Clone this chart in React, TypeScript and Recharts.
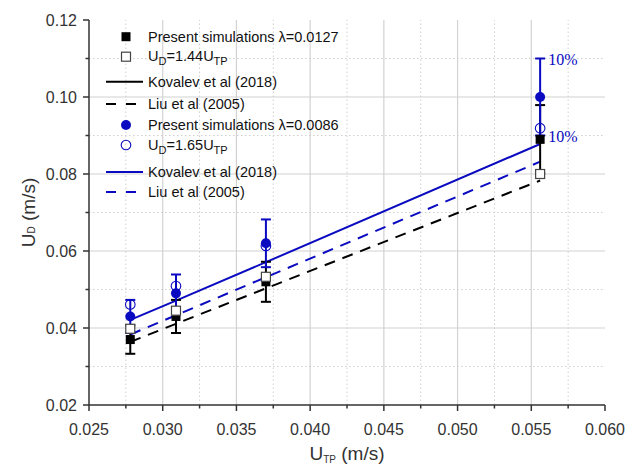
import { ComposedChart, Line, Scatter, XAxis, YAxis, ErrorBar, ReferenceLine } from 'recharts';

// U_TP (m/s)
const utp = [0.0278, 0.0309, 0.037, 0.0556];
// lambda = 0.0127 (black)
const simBlack = [0.037, 0.043, 0.052, 0.089];
const simBlackErr = [0.0037, 0.0043, 0.0052, 0.0089];
const fit144 = [0.0398, 0.0445, 0.0533, 0.080];
const liuBlack = [0.0364, 0.0411, 0.0503, 0.0783];
// lambda = 0.0086 (blue)
const simBlue = [0.043, 0.049, 0.062, 0.100];
const simBlueErr = [0.0043, 0.0049, 0.0062, 0.010];
const fit165 = [0.0461, 0.0509, 0.0613, 0.0919];
const kovalevBlue = [0.0421, 0.0471, 0.0571, 0.0878];
const liuBlue = [0.0383, 0.0433, 0.0532, 0.0832];

const pctNotes = [
  { x: 0.0556, y: 0.11, text: '10%' },
  { x: 0.0556, y: 0.09, text: '10%' },
];

const xTicks = [0.025, 0.0275, 0.03, 0.0325, 0.035, 0.0375, 0.04, 0.0425, 0.045, 0.0475, 0.05, 0.0525, 0.055, 0.0575, 0.06];
const xMajor = [0.025, 0.03, 0.035, 0.04, 0.045, 0.05, 0.055, 0.06];
const yTicks = [0.02, 0.03, 0.04, 0.05, 0.06, 0.07, 0.08, 0.09, 0.1, 0.11, 0.12];
const yMajor = [0.02, 0.04, 0.06, 0.08, 0.1, 0.12];

const xGridMajor = [0.03, 0.035, 0.04, 0.045, 0.05, 0.055];
const xGridMinor = [0.0275, 0.0325, 0.0375, 0.0425, 0.0475, 0.0525, 0.0575];
const yGridMajor = [0.04, 0.06, 0.08, 0.1];
const yGridMinor = [0.03, 0.05, 0.07, 0.09, 0.11];

const rows = utp.map((x, i) => ({
  x,
  simBlack: simBlack[i],
  simBlackErr: simBlackErr[i],
  fit144: fit144[i],
  liuBlack: liuBlack[i],
  simBlue: simBlue[i],
  simBlueErr: simBlueErr[i],
  fit165: fit165[i],
  kovalevBlue: kovalevBlue[i],
  liuBlue: liuBlue[i],
}));

const BLUE = '#0a0ac0';
const AXIS = '#333';
const FONT = '"Liberation Sans", Arial, sans-serif';

const isMajor = (v: number, list: number[]) => list.some((m) => Math.abs(m - v) < 1e-7);

function XTick({ x, y, payload }: any) {
  const v = payload.value;
  const major = isMajor(v, xMajor);
  return (
    <g>
      <line x1={x} x2={x} y1={y} y2={y + (major ? 6 : 3.5)} stroke={AXIS} strokeWidth={1.5} />
      {major && (
        <text x={x} y={y + 30} textAnchor="middle" fontSize={16} fill={AXIS} fontFamily={FONT}>
          {v.toFixed(3)}
        </text>
      )}
    </g>
  );
}

function YTick({ x, y, payload }: any) {
  const v = payload.value;
  const major = isMajor(v, yMajor);
  return (
    <g>
      <line x1={x} x2={x - (major ? 6 : 3.5)} y1={y} y2={y} stroke={AXIS} strokeWidth={1.5} />
      {major && (
        <text x={x - 12} y={y + 6} textAnchor="end" fontSize={16} fill={AXIS} fontFamily={FONT}>
          {v.toFixed(2)}
        </text>
      )}
    </g>
  );
}

const FilledSquare = ({ cx, cy }: any) => <rect x={cx - 4.5} y={cy - 4.5} width={9} height={9} fill="#000" />;
const OpenSquare = ({ cx, cy }: any) => (
  <rect x={cx - 4.5} y={cy - 4.5} width={9} height={9} fill="#fff" stroke="#444" strokeWidth={1.2} />
);
const FilledDot = ({ cx, cy }: any) => <circle cx={cx} cy={cy} r={5} fill={BLUE} />;
const OpenDot = ({ cx, cy }: any) => <circle cx={cx} cy={cy} r={4.8} fill="none" stroke={BLUE} strokeWidth={1.1} />;
const PctText = ({ cx, cy, payload }: any) => (
  <text x={cx + 8} y={cy + 6} fontSize={16} fill={BLUE} fontFamily='"Liberation Serif", "Times New Roman", serif'>
    {payload.text}
  </text>
);

function Legend() {
  const tx = 148;
  const lx1 = 106;
  const lx2 = 143;
  const mx = 126;
  const txt = { fontSize: 14.5, fill: '#111', fontFamily: FONT } as const;
  const sub = (s: string) => (
    <tspan dy={4} fontSize={11}>
      {s}
    </tspan>
  );
  return (
    <svg width={637} height={467} style={{ position: 'absolute', left: 0, top: 0, pointerEvents: 'none' }}>
      <rect x={mx - 4.5} y={36.7 - 4.5} width={9} height={9} fill="#000" />
      <text x={tx} y={41.7} {...txt}>Present simulations λ=0.0127</text>

      <rect x={mx - 4.5} y={56.7 - 4.5} width={9} height={9} fill="#fff" stroke="#444" strokeWidth={1.2} />
      <text x={tx} y={61} {...txt}>
        U{sub('D')}
        <tspan dy={-4}>=1.44U</tspan>
        {sub('TP')}
      </text>

      <line x1={lx1} x2={lx2} y1={81.7} y2={81.7} stroke="#000" strokeWidth={2} />
      <text x={tx} y={86.7} {...txt}>Kovalev et al (2018)</text>

      <line x1={lx1} x2={lx2} y1={104} y2={104} stroke="#000" strokeWidth={2} strokeDasharray="10 10" />
      <text x={tx} y={109} {...txt}>Liu et al (2005)</text>

      <circle cx={mx} cy={125} r={5} fill={BLUE} />
      <text x={tx} y={130} {...txt}>Present simulations λ=0.0086</text>

      <circle cx={mx} cy={145} r={4.8} fill="none" stroke={BLUE} strokeWidth={1.1} />
      <text x={tx} y={149.5} {...txt}>
        U{sub('D')}
        <tspan dy={-4}>=1.65U</tspan>
        {sub('TP')}
      </text>

      <line x1={lx1} x2={lx2} y1={172} y2={172} stroke={BLUE} strokeWidth={2} />
      <text x={tx} y={177} {...txt}>Kovalev et al (2018)</text>

      <line x1={lx1} x2={lx2} y1={192} y2={192} stroke={BLUE} strokeWidth={2} strokeDasharray="10 10" />
      <text x={tx} y={197} {...txt}>Liu et al (2005)</text>
    </svg>
  );
}

export default function App() {
  return (
    <div style={{ position: 'absolute', left: 0, top: 0, width: 637, height: 467, background: '#fff' }}>
      <ComposedChart width={637} height={467} data={rows} margin={{ top: 20, right: 32, bottom: 32, left: 29 }}>
        {xGridMinor.map((v) => (
          <ReferenceLine key={`xm${v}`} x={v} stroke="#cfcfcf" strokeDasharray="1.5 2.5" />
        ))}
        {yGridMinor.map((v) => (
          <ReferenceLine key={`ym${v}`} y={v} stroke="#cfcfcf" strokeDasharray="1.5 2.5" />
        ))}
        {xGridMajor.map((v) => (
          <ReferenceLine key={`xM${v}`} x={v} stroke="#d2d2d2" strokeWidth={1.2} />
        ))}
        {yGridMajor.map((v) => (
          <ReferenceLine key={`yM${v}`} y={v} stroke="#d2d2d2" strokeWidth={1.2} />
        ))}
        <XAxis
          type="number"
          dataKey="x"
          domain={[0.025, 0.06]}
          ticks={xTicks}
          interval={0}
          tick={<XTick />}
          tickLine={false}
          tickSize={0}
          tickMargin={0}
          height={30}
          axisLine={{ stroke: AXIS, strokeWidth: 1.5 }}
          allowDataOverflow
          label={{
            content: ({ viewBox }: any) => (
              <text
                x={viewBox.x + viewBox.width / 2}
                y={viewBox.y + 55}
                textAnchor="middle"
                fontSize={19}
                fill={AXIS}
                fontFamily={FONT}
              >
                U
                <tspan dy={3} fontSize={10}>
                  TP
                </tspan>
                <tspan dy={-3}> (m/s)</tspan>
              </text>
            ),
          }}
        />
        <YAxis
          type="number"
          domain={[0.02, 0.12]}
          ticks={yTicks}
          interval={0}
          tick={<YTick />}
          tickLine={false}
          tickSize={0}
          tickMargin={0}
          width={60}
          axisLine={{ stroke: AXIS, strokeWidth: 1.5 }}
          allowDataOverflow
          label={{
            content: ({ viewBox }: any) => {
              const cx = viewBox.x - 1;
              const cy = viewBox.y + viewBox.height / 2;
              return (
                <text
                  x={cx}
                  y={cy}
                  transform={`rotate(-90, ${cx}, ${cy})`}
                  textAnchor="middle"
                  dominantBaseline="central"
                  fontSize={19}
                  fill={AXIS}
                  fontFamily={FONT}
                >
                  U
                  <tspan dy={3} fontSize={10}>
                    D
                  </tspan>
                  <tspan dy={-3}> (m/s)</tspan>
                </text>
              );
            },
          }}
        />
        <Line dataKey="liuBlack" stroke="#000" strokeWidth={2} strokeDasharray="11 8" dot={false} isAnimationActive={false} />
        <Line dataKey="liuBlue" stroke={BLUE} strokeWidth={2} strokeDasharray="11 8" dot={false} isAnimationActive={false} />
        <Line dataKey="kovalevBlue" stroke={BLUE} strokeWidth={2} dot={false} isAnimationActive={false} />
        <Scatter data={rows} dataKey="simBlack" shape={<FilledSquare />} isAnimationActive={false}>
          <ErrorBar dataKey="simBlackErr" direction="y" width={5} stroke="#000" strokeWidth={2} />
        </Scatter>
        <Scatter data={rows} dataKey="fit144" shape={<OpenSquare />} isAnimationActive={false} />
        <Scatter data={rows} dataKey="simBlue" shape={<FilledDot />} isAnimationActive={false}>
          <ErrorBar dataKey="simBlueErr" direction="y" width={5} stroke={BLUE} strokeWidth={2} />
        </Scatter>
        <Scatter data={rows} dataKey="fit165" shape={<OpenDot />} isAnimationActive={false} />
        <Scatter data={pctNotes} dataKey="y" shape={<PctText />} isAnimationActive={false} />
      </ComposedChart>
      <Legend />
    </div>
  );
}
